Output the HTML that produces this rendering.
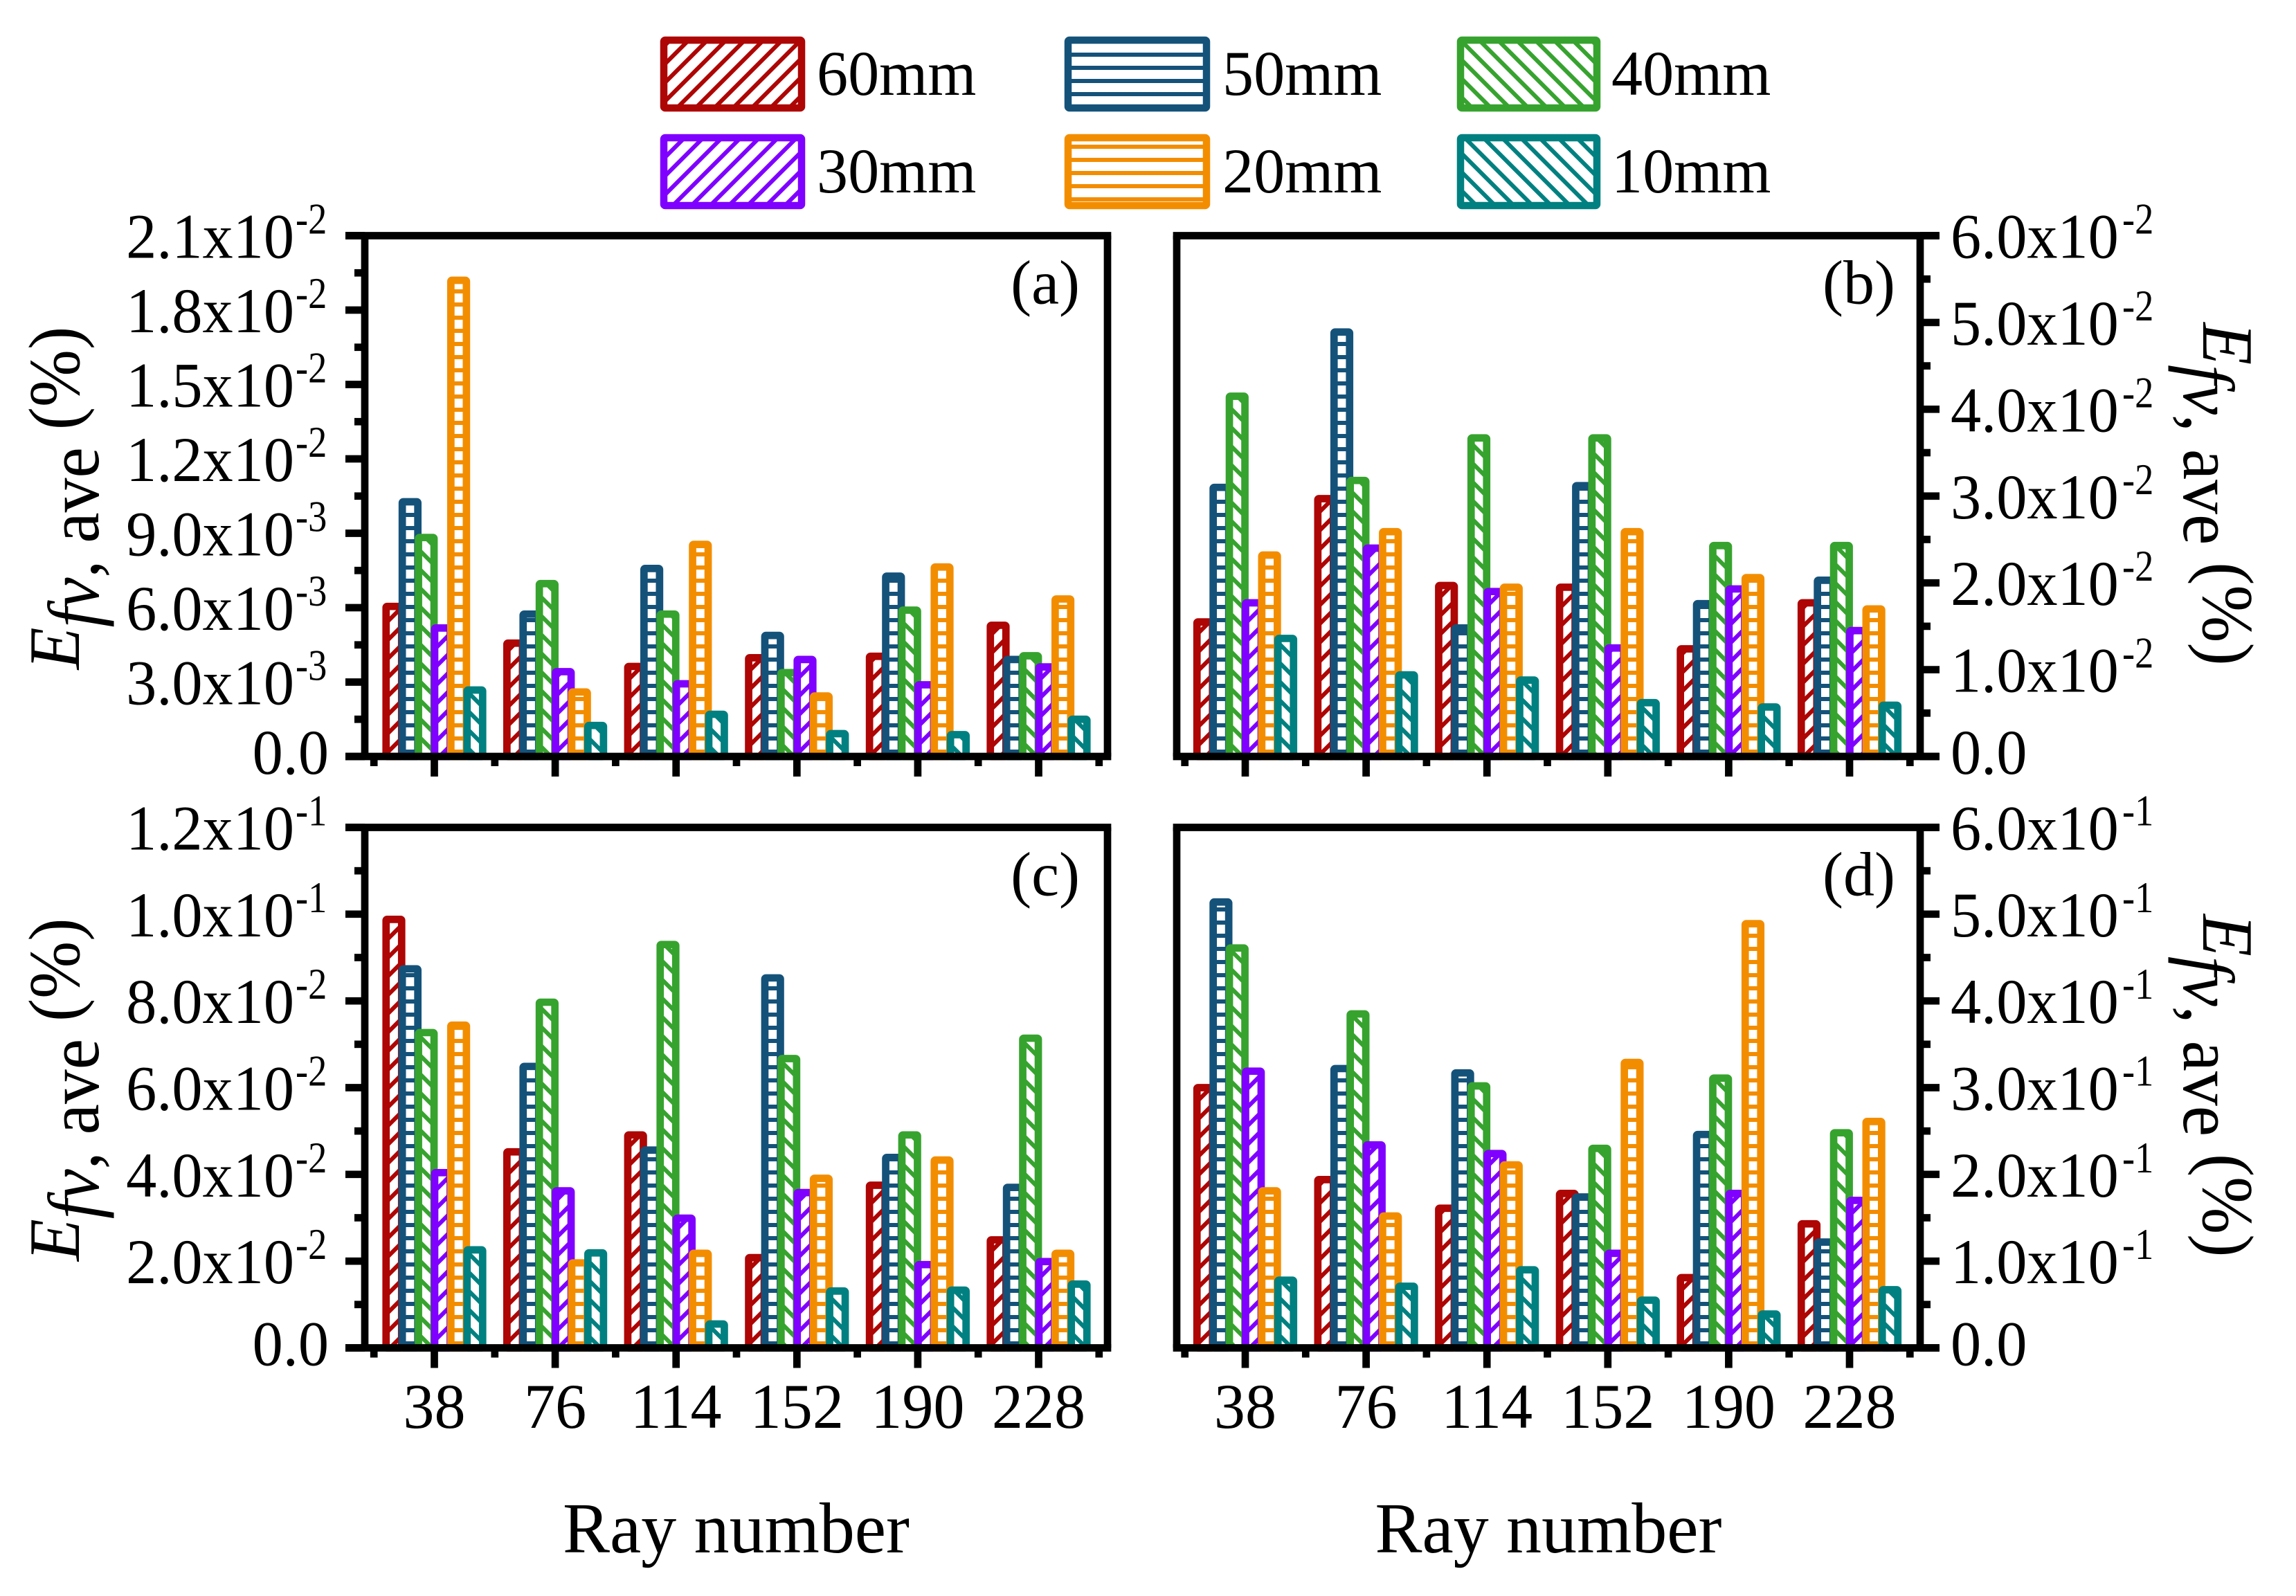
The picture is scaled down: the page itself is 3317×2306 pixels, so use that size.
<!DOCTYPE html>
<html lang="en">
<head>
<meta charset="utf-8">
<title>Efv, ave versus ray number</title>
<style>
html,body{margin:0;padding:0;background:#fff;}
svg{display:block;}
text{font-family:"Liberation Serif",serif;fill:#000;}
</style>
</head>
<body>
<svg id="chart" xmlns="http://www.w3.org/2000/svg" width="3317" height="2306" viewBox="0 0 3317 2306">
<defs>
<pattern id="h-60" patternUnits="userSpaceOnUse" width="27" height="27"><rect width="27" height="27" fill="#fff"/><path d="M-7,7L7,-7M0,27L27,0M20,34L34,20" stroke="#AE0505" stroke-width="6"/></pattern>
<pattern id="h-30" patternUnits="userSpaceOnUse" width="27" height="27"><rect width="27" height="27" fill="#fff"/><path d="M-7,7L7,-7M0,27L27,0M20,34L34,20" stroke="#7F00FF" stroke-width="6"/></pattern>
<pattern id="h-40" patternUnits="userSpaceOnUse" width="27" height="27"><rect width="27" height="27" fill="#fff"/><path d="M-7,20L7,34M0,0L27,27M20,-7L34,7" stroke="#36A32E" stroke-width="6"/></pattern>
<pattern id="h-10" patternUnits="userSpaceOnUse" width="27" height="27"><rect width="27" height="27" fill="#fff"/><path d="M-7,20L7,34M0,0L27,27M20,-7L34,7" stroke="#008080" stroke-width="6"/></pattern>
<pattern id="h-50" patternUnits="userSpaceOnUse" width="19" height="19"><rect width="19" height="19" fill="#fff"/><rect y="0" width="19" height="6" fill="#15527A"/></pattern>
<pattern id="h-20" patternUnits="userSpaceOnUse" width="19" height="19"><rect width="19" height="19" fill="#fff"/><rect y="0" width="19" height="6" fill="#F38D00"/></pattern>
</defs>

<g>
<g><rect x="959" y="58" width="199" height="98" rx="2" fill="url(#h-60)" stroke="#AE0505" stroke-width="10.5"/><text transform="translate(1180,137) scale(0.98,1)" font-size="92">60mm</text></g>
<g><rect x="1543" y="58" width="200" height="98" rx="2" fill="url(#h-50)" stroke="#15527A" stroke-width="10.5"/><text transform="translate(1766,137) scale(0.98,1)" font-size="92">50mm</text></g>
<g><rect x="2110" y="58" width="197" height="98" rx="2" fill="url(#h-40)" stroke="#36A32E" stroke-width="10.5"/><text transform="translate(2328,137) scale(0.98,1)" font-size="92">40mm</text></g>
<g><rect x="959" y="199" width="199" height="98" rx="2" fill="url(#h-30)" stroke="#7F00FF" stroke-width="10.5"/><text transform="translate(1180,278) scale(0.98,1)" font-size="92">30mm</text></g>
<g><rect x="1543" y="199" width="200" height="98" rx="2" fill="url(#h-20)" stroke="#F38D00" stroke-width="10.5"/><text transform="translate(1766,278) scale(0.98,1)" font-size="92">20mm</text></g>
<g><rect x="2110" y="199" width="197" height="98" rx="2" fill="url(#h-10)" stroke="#008080" stroke-width="10.5"/><text transform="translate(2328,278) scale(0.98,1)" font-size="92">10mm</text></g>
</g>
</svg>

<script>
// Categories and series
const categories = ["38", "76", "114", "152", "190", "228"];
const seriesKeys = ["60", "50", "40", "30", "20", "10"];
const seriesColors = ["#AE0505", "#15527A", "#36A32E", "#7F00FF", "#F38D00", "#008080"];

// Panel (a), values in units of 1e-3
const a60 = [6.05, 4.57, 3.63, 3.98, 4.04, 5.29];
const a50 = [10.27, 5.74, 7.58, 4.88, 7.27, 3.91];
const a40 = [8.83, 6.97, 5.74, 3.38, 5.90, 4.06];
const a30 = [5.18, 3.42, 2.93, 3.91, 2.89, 3.61];
const a20 = [19.2, 2.6, 8.55, 2.44, 7.64, 6.35];
const a10 = [2.68, 1.25, 1.70, 0.92, 0.88, 1.5];
const aTicks = [0, 3, 6, 9, 12, 15, 18, 21];
const aTickText = ["0.0", "3.0x10", "6.0x10", "9.0x10", "1.2x10", "1.5x10", "1.8x10", "2.1x10"];
const aTickExp = ["", "-3", "-3", "-3", "-2", "-2", "-2", "-2"];

// Panel (b), values in units of 1e-2
const b60 = [1.55, 2.97, 1.97, 1.95, 1.24, 1.77];
const b50 = [3.10, 4.89, 1.48, 3.12, 1.76, 2.03];
const b40 = [4.15, 3.18, 3.67, 3.67, 2.43, 2.43];
const b30 = [1.77, 2.40, 1.90, 1.25, 1.93, 1.45];
const b20 = [2.32, 2.59, 1.95, 2.59, 2.06, 1.70];
const b10 = [1.36, 0.94, 0.88, 0.62, 0.57, 0.59];
const bTicks = [0, 1, 2, 3, 4, 5, 6];
const bTickText = ["0.0", "1.0x10", "2.0x10", "3.0x10", "4.0x10", "5.0x10", "6.0x10"];
const bTickExp = ["", "-2", "-2", "-2", "-2", "-2", "-2"];

// Panel (c), values in units of 1e-2
const c60 = [9.88, 4.52, 4.91, 2.08, 3.75, 2.49];
const c50 = [8.74, 6.49, 4.56, 8.53, 4.39, 3.70];
const c40 = [7.27, 7.97, 9.30, 6.67, 4.91, 7.14];
const c30 = [4.04, 3.62, 2.99, 3.58, 1.92, 1.99];
const c20 = [7.44, 1.96, 2.18, 3.91, 4.33, 2.18];
const c10 = [2.26, 2.19, 0.55, 1.31, 1.33, 1.47];
const cTicks = [0, 2, 4, 6, 8, 10, 12];
const cTickText = ["0.0", "2.0x10", "4.0x10", "6.0x10", "8.0x10", "1.0x10", "1.2x10"];
const cTickExp = ["", "-2", "-2", "-2", "-2", "-1", "-1"];

// Panel (d), values in units of 1e-1
const d60 = [3.00, 1.94, 1.61, 1.78, 0.81, 1.43];
const d50 = [5.14, 3.22, 3.17, 1.74, 2.46, 1.22];
const d40 = [4.61, 3.85, 3.02, 2.30, 3.11, 2.48];
const d30 = [3.19, 2.34, 2.24, 1.09, 1.78, 1.70];
const d20 = [1.81, 1.52, 2.11, 3.29, 4.89, 2.61];
const d10 = [0.78, 0.71, 0.90, 0.55, 0.39, 0.67];
const dTicks = [0, 1, 2, 3, 4, 5, 6];
const dTickText = ["0.0", "1.0x10", "2.0x10", "3.0x10", "4.0x10", "5.0x10", "6.0x10"];
const dTickExp = ["", "-1", "-1", "-1", "-1", "-1", "-1"];

const NS = "http://www.w3.org/2000/svg";
const root = document.getElementById("chart");
const LW = 10.7;
const STEP_X = 174.6;
const BAR_STEP = 23.4;
const BAR_W = 22.5;

function make(tag, attrs, parent) {
  const n = document.createElementNS(NS, tag);
  for (const k in attrs) n.setAttribute(k, attrs[k]);
  parent.appendChild(n);
  return n;
}

function drawPanel(p) {
  const g = make("g", {}, root);
  
  

  const yMax = p.ticks[p.ticks.length - 1];
  const yScale = function (v) { return p.bottom - (v / yMax) * (p.bottom - p.top); };
  const xScale = function (groupIndex) { return p.firstTick + groupIndex * STEP_X; };
  const barCenter = function (groupIndex, s) { return xScale(groupIndex) + (s - 2.5) * BAR_STEP; };

  // bars
  categories.forEach(function (cat, c) {
    const group = make("g", {}, g);
    
    
    p.series.forEach(function (vals, s) {
      const y = yScale(vals[c]);
      const r = make("rect", {
        x: barCenter(c, s) - BAR_W / 2,
        y: y,
        width: BAR_W,
        height: p.bottom - y,
        rx: 1.5,
        fill: "url(#h-" + seriesKeys[s] + ")",
        stroke: seriesColors[s],
        "stroke-width": LW
      }, group);
      
      
    });
  });

  // frame
  const outer = p.side === "left" ? p.left - 28 : p.right + 27;
  const frameX1 = p.side === "left" ? outer : p.left - LW / 2;
  const frameX2 = p.side === "left" ? p.right + LW / 2 : outer;
  const frameSegs = [
    ["frame-top", frameX1, p.top, frameX2, p.top],
    ["frame-bottom", frameX1, p.bottom, frameX2, p.bottom],
    ["frame-left", p.left, p.top, p.left, p.bottom],
    ["frame-right", p.right, p.top, p.right, p.bottom]
  ];
  frameSegs.forEach(function (f) {
    const l = make("line", { x1: f[1], y1: f[2], x2: f[3], y2: f[4], stroke: "#000", "stroke-width": LW }, g);
    
    
  });

  // x ticks
  categories.forEach(function (cat, c) {
    const x = xScale(c);
    const t = make("line", { x1: x, y1: p.bottom, x2: x, y2: p.bottom + 29, stroke: "#000", "stroke-width": LW }, g);
    
    
    if (p.showXLabels) {
      const lab = make("text", {
        transform: "translate(" + x + "," + (p.bottom + 115.5) + ") scale(0.98,1)",
        "font-size": 92,
        "text-anchor": "middle"
      }, g);
      
      
      lab.textContent = cat;
    }
  });
  for (let c = 0; c <= categories.length; c++) {
    const x = xScale(c) - STEP_X / 2;
    const m = make("line", { x1: x, y1: p.bottom, x2: x, y2: p.bottom + 14, stroke: "#000", "stroke-width": LW }, g);
    
    
  }

  // y ticks
  const axisX = p.side === "left" ? p.left : p.right;
  const dir = p.side === "left" ? -1 : 1;
  p.ticks.forEach(function (v, i) {
    const y = yScale(v);
    const t = make("line", { x1: axisX, y1: y, x2: axisX + dir * 28, y2: y, stroke: "#000", "stroke-width": LW }, g);
    
    
    if (i > 0) {
      const my = yScale((v + p.ticks[i - 1]) / 2);
      const m = make("line", { x1: axisX, y1: my, x2: axisX + dir * 15, y2: my, stroke: "#000", "stroke-width": LW }, g);
      
      
    }
    const base = y + (i === 0 ? 25 : 32);
    const hasExp = p.tickExp[i] !== "";
    const mainX = p.side === "left" ? (hasExp ? p.labelX - 50 : p.labelX) : p.labelX;
    const lab = make("text", {
      transform: "translate(" + mainX + "," + base + ") scale(0.96,1)",
      "font-size": 92,
      "text-anchor": p.side === "left" ? "end" : "start"
    }, g);
    
    
    lab.textContent = p.tickText[i];
    if (hasExp) {
      const supX = p.side === "left" ? p.labelX - 48 : p.labelX + 248;
      const sup = make("text", {
        transform: "translate(" + supX + "," + (base - 35) + ") scale(0.85,1)",
        "font-size": 64,
        "text-anchor": "start"
      }, g);
      
      
      sup.textContent = p.tickExp[i];
    }
  });

  // y title
  const cy = (p.top + p.bottom) / 2;
  const rot = p.side === "left" ? -90 : 90;
  const title = make("text", {
    transform: "translate(" + p.titleX + "," + cy + ") rotate(" + rot + ") scale(0.95,1)",
    x: -3,
    "font-size": 105,
    "text-anchor": "middle"
  }, g);
  
  
  const e = make("tspan", { "font-style": "italic" }, title);
  e.textContent = "E";
  const fv = make("tspan", { "font-style": "italic", dy: 28 }, title);
  fv.textContent = "fv";
  const ave = make("tspan", {}, title);
  ave.textContent = ", ave ";
  const pct = make("tspan", { dy: -28 }, title);
  pct.textContent = "(%)";

  // x title
  if (p.showXLabels) {
    const xt = make("text", {
      transform: "translate(" + ((p.left + p.right) / 2) + ",2243) scale(0.98,1)",
      "font-size": 104,
      "text-anchor": "middle"
    }, g);
    
    
    xt.textContent = "Ray number";
  }

  // panel letter
  const letter = make("text", {
    x: p.right - (p.side === "left" ? 40 : 36),
    y: p.top + 98,
    "font-size": 90,
    "text-anchor": "end"
  }, g);
  
  
  letter.textContent = "(" + p.id + ")";
}

drawPanel({ id: "a", side: "left", left: 527, right: 1600, top: 340.5, bottom: 1093, firstTick: 627.5, labelX: 475, titleX: 114, showXLabels: false,
  series: [a60, a50, a40, a30, a20, a10], ticks: aTicks, tickText: aTickText, tickExp: aTickExp });
drawPanel({ id: "b", side: "right", left: 1700, right: 2774, top: 340.5, bottom: 1093, firstTick: 1799, labelX: 2818, titleX: 3183, showXLabels: false,
  series: [b60, b50, b40, b30, b20, b10], ticks: bTicks, tickText: bTickText, tickExp: bTickExp });
drawPanel({ id: "c", side: "left", left: 527, right: 1600, top: 1195.5, bottom: 1947.5, firstTick: 627.5, labelX: 475, titleX: 114, showXLabels: true,
  series: [c60, c50, c40, c30, c20, c10], ticks: cTicks, tickText: cTickText, tickExp: cTickExp });
drawPanel({ id: "d", side: "right", left: 1700, right: 2774, top: 1195.5, bottom: 1947.5, firstTick: 1799, labelX: 2818, titleX: 3183, showXLabels: true,
  series: [d60, d50, d40, d30, d20, d10], ticks: dTicks, tickText: dTickText, tickExp: dTickExp });
</script>
</body>
</html>
